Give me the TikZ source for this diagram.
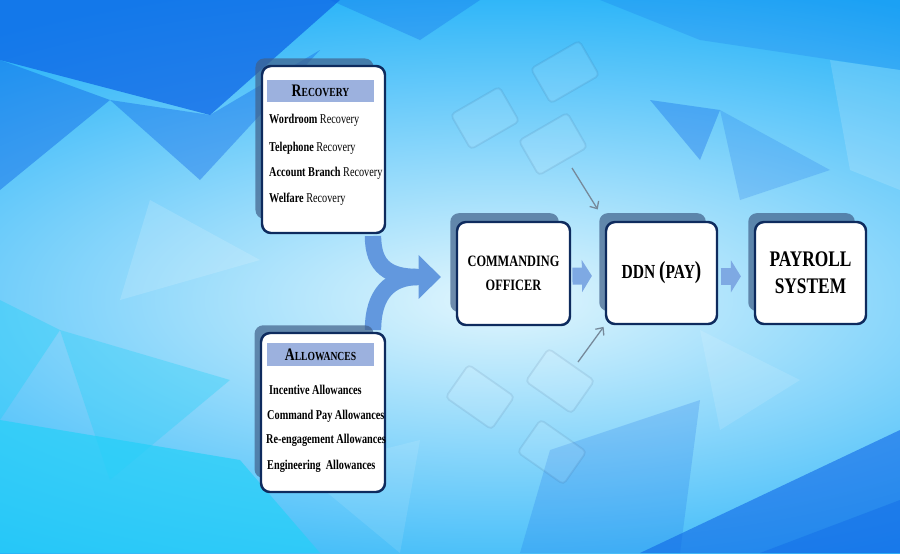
\documentclass[tikz,border=0pt]{standalone}
\usepackage{fontspec}
\setmainfont{Liberation Serif}
\newfontfamily\itemfont[FakeStretch=0.76]{Liberation Serif}
\newfontfamily\boxfont[FakeStretch=0.78]{Liberation Serif}
\usetikzlibrary{arrows.meta, positioning, shadows}

\definecolor{bgsky}{HTML}{1FB0F8}
\definecolor{bglight}{HTML}{E2F6FD}
\definecolor{facetdark}{HTML}{0F66E6}
\definecolor{facetcyan}{HTML}{25D0F8}
\definecolor{cardline}{HTML}{0E2B5E}
\definecolor{cardshade}{HTML}{40608A}
\definecolor{headfill}{HTML}{9CB1DE}
\definecolor{flowblue}{HTML}{7EA9E3}
\definecolor{mergeblue}{HTML}{6298DE}
\definecolor{pointergray}{HTML}{76899A}

\newcommand\headcaps[2]{{\fontsize{15}{15}\selectfont #1}{\fontsize{10.5}{10.5}\selectfont #2}}
\newcommand\bigparen[1]{{\fontsize{21}{21}\selectfont #1}}

\tikzset{
  card/.style={rectangle, rounded corners=0.27cm, draw=cardline, line width=2.1pt, fill=white,
    general shadow={fill=cardshade, fill opacity=0.7, draw=none, shadow scale=0.96,
      shadow xshift=-0.28cm, shadow yshift=0.34cm}},
  headband/.style={rectangle, fill=headfill, minimum width=3.21cm, minimum height=0.67cm,
    inner sep=0pt, font=\boxfont\bfseries},
  item/.style={anchor=west, inner sep=0pt, font=\itemfont\bfseries\fontsize{11.5}{13}\selectfont},
  boxtext/.style={align=center, font=\boxfont\bfseries\fontsize{13.5}{20.5}\selectfont},
  flow/.style={draw=flowblue, line width=14.5pt, -{Triangle[length=8.5pt, width=27pt]}},
  merge/.style={draw=mergeblue, line width=14pt},
  pointer/.style={draw=pointergray, line width=1.1pt, -{Straight Barb[length=5pt, width=9pt]}},
  facetw/.style={fill=white, fill opacity=#1},
  facetb/.style={fill=facetdark, fill opacity=#1},
  facetc/.style={fill=facetcyan, fill opacity=#1},
  ghostcard/.style={draw=cardline, draw opacity=0.09, fill=white, fill opacity=0.09,
    rounded corners=0.12cm, line width=1.5pt}
}

\begin{document}
\begin{tikzpicture}[x=0.03cm, y=-0.03cm]
    % Background with facets
    \path[use as bounding box, clip] (0,0) rectangle (900,553);
    \fill[bgsky] (0,0) rectangle (900,553);
    \shade[inner color=bglight, outer color=bgsky] (500,300) ellipse [x radius=880, y radius=330];
    \fill[facetb=0.75] (0,0) -- (340,0) -- (210,115) -- (0,60) -- cycle;
    \fill[facetb=0.45] (0,60) -- (110,100) -- (0,190) -- cycle;
    \fill[facetb=0.40] (110,100) -- (210,115) -- (320,50) -- (200,180) -- cycle;
    \fill[facetb=0.30] (330,0) -- (480,0) -- (420,40) -- cycle;
    \fill[facetb=0.20] (600,0) -- (900,0) -- (900,70) -- (700,40) -- cycle;
    \fill[facetb=0.35] (650,100) -- (720,110) -- (700,160) -- cycle;
    \fill[facetb=0.20] (720,110) -- (830,170) -- (740,200) -- cycle;
    \fill[facetw=0.15] (830,60) -- (900,70) -- (900,190) -- (850,170) -- cycle;
    \fill[facetc=0.70] (0,420) -- (240,460) -- (320,553) -- (0,553) -- cycle;
    \fill[facetc=0.35] (60,330) -- (230,380) -- (110,480) -- cycle;
    \fill[facetc=0.40] (0,300) -- (60,330) -- (0,420) -- cycle;
    \fill[facetb=0.60] (640,553) -- (900,430) -- (900,553) -- cycle;
    \fill[facetb=0.40] (760,553) -- (900,500) -- (900,553) -- cycle;
    \fill[facetb=0.20] (550,450) -- (700,400) -- (680,553) -- (520,553) -- cycle;
    \fill[facetw=0.15] (150,200) -- (260,260) -- (120,300) -- cycle;
    \fill[facetw=0.10] (300,470) -- (420,440) -- (400,553) -- cycle;
    \fill[facetw=0.12] (700,330) -- (800,380) -- (720,430) -- cycle;

    % Faded cards in the background
    \draw[ghostcard, rotate around={30:(485,118)}] (457,98) rectangle (513,138);
    \draw[ghostcard, rotate around={30:(565,72)}] (537,52) rectangle (593,92);
    \draw[ghostcard, rotate around={30:(553,144)}] (525,124) rectangle (581,164);
    \draw[ghostcard, rotate around={-35:(480,397)}] (452,377) rectangle (508,417);
    \draw[ghostcard, rotate around={-35:(560,381)}] (532,361) rectangle (588,401);
    \draw[ghostcard, rotate around={-35:(552,452)}] (524,432) rectangle (580,472);

    % Merge arrow joining the two cards
    \coordinate (mergept) at (418,277);
    \coordinate (mergetip) at (441,277);
    \draw[merge] (373,236) .. controls +(0,32) and +(-28,0) .. (mergept);
    \draw[merge] (373,330) .. controls +(0,-36) and +(-28,0) .. (mergept);
    \draw[merge, -{Triangle[length=19pt, width=36pt]}] ([xshift=-0.1cm]mergept) -- (mergetip);

    % Recovery card
    \node (rec) [card, minimum width=3.69cm, minimum height=5.01cm] at (323.5,149.5) {};
    \node (rechead) [headband] at (320.5,91) {\headcaps{R}{ECOVERY}};
    \node (rec1) [item] at (269,120) {Wordroom \textmd{Recovery}};
    \node (rec2) [item] at (269,148) {Telephone \textmd{Recovery}};
    \node (rec3) [item] at (269,173) {Account Branch \textmd{Recovery}};
    \node (rec4) [item] at (269,199) {Welfare \textmd{Recovery}};

    % Allowances card
    \node (alw) [card, minimum width=3.72cm, minimum height=4.77cm] at (323,412.5) {};
    \node (alwhead) [headband] at (320.5,354.5) {\headcaps{A}{LLOWANCES}};
    \node (alw1) [item] at (269,390) {Incentive Allowances};
    \node (alw2) [item] at (267,416) {Command Pay Allowances};
    \node (alw3) [item] at (266,440) {Re-engagement Allowances};
    \node (alw4) [item] at (267,466) {Engineering\ \ Allowances};

    % Flow boxes
    \node (co) [card, boxtext, minimum width=3.39cm, minimum height=3.09cm] at (513.5,273.5) {COMMANDING\\OFFICER};
    \node (ddn) [card, boxtext, font=\boxfont\bfseries\fontsize{17}{21}\selectfont, minimum width=3.33cm, minimum height=3.06cm] at (661.5,273) {DDN \bigparen{(}PAY\bigparen{)}};
    \node (pay) [card, boxtext, font=\boxfont\bfseries\fontsize{19}{23}\selectfont, minimum width=3.33cm, minimum height=3.06cm] at (810.5,273) {PAYROLL\\SYSTEM};

    % Block arrows between boxes
    \draw[flow, shorten <=1pt, shorten >=11pt] ([yshift=-0.08cm]co.east) -- ([yshift=-0.08cm]ddn.west);
    \draw[flow, shorten <=2pt, shorten >=11pt] ([yshift=-0.1cm]ddn.east) -- ([yshift=-0.1cm]pay.west);

    % Thin pointers into DDN
    \coordinate (ptop) at (572,168);
    \coordinate (pbot) at (578,362);
    \draw[pointer, shorten >=0.4cm] (ptop) -- (ddn.north west);
    \draw[pointer, shorten >=0.06cm] (pbot) -- (ddn.south west);
\end{tikzpicture}
\end{document}
